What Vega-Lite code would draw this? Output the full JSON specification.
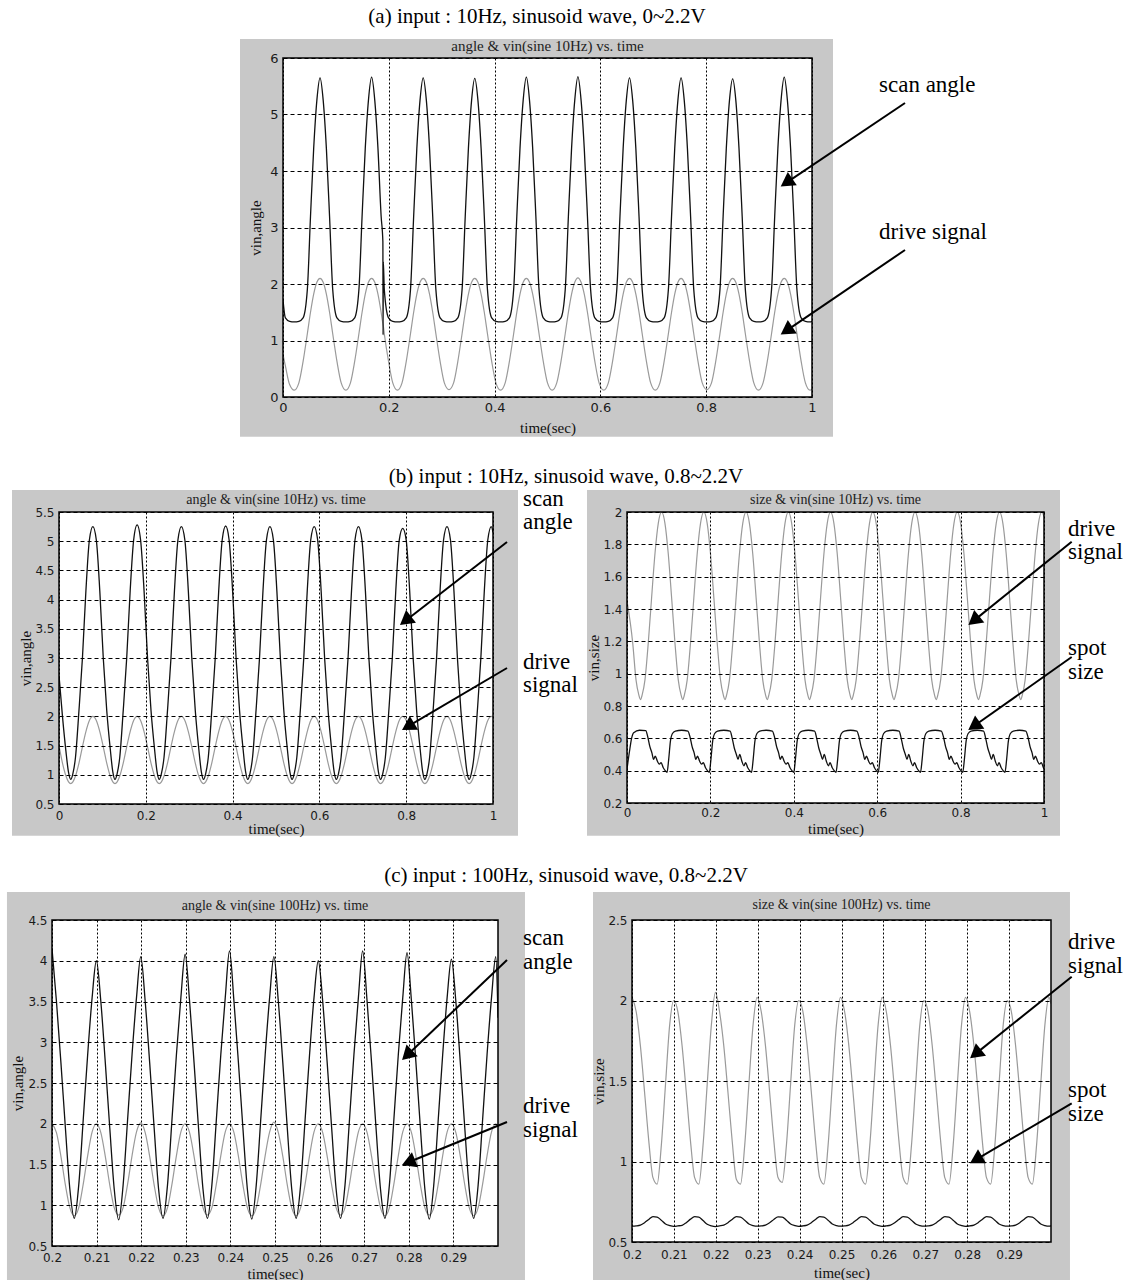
{
"$schema": "https://vega.github.io/schema/vega-lite/v6.json",
"background": "white",
"padding": 0,
"columns": 1,
"align": "each",
"bounds": "full",
"spacing": 29,
"config": {
  "view": {"stroke": null},
  "axis": {"grid": true, "tickCount": 40, "gridColor": "#000", "gridOpacity": 1, "gridWidth": 1, "domain": false, "ticks": false, "labelFlush": false, "labelOverlap": false, "labelSeparation": -100, "labelFont": "DejaVu Sans", "labelFontSize": 12, "labelColor": "#1a1a1a", "labelPadding": 5, "titleFont": "Liberation Serif", "titleFontSize": 15, "titleFontWeight": "normal", "titleColor": "#111"},
  "axisX": {"gridDash": [2, 2]},
  "axisY": {"gridDash": [4, 3]},
  "text": {"font": "Liberation Serif", "color": "#000"},
  "rect": {"color": "#c8c8c8"}
},
"datasets": {
"a": [
{"t":0,"a":1.72,"d":0.75},{"t":0.0045,"a":1.4,"d":0.55},{"t":0.0125,"a":1.34,"d":0.22},{"t":0.0213,"a":1.33,"d":0.12},
{"t":0.03,"a":1.34,"d":0.25},{"t":0.038,"a":1.4,"d":0.63},{"t":0.046,"a":1.9,"d":1.12},{"t":0.052,"a":3.2,"d":1.5},{"t":0.058,"a":4.4,"d":1.82},{"t":0.064,"a":5.25,"d":2.03},{"t":0.07,"a":5.65,"d":2.1},{"t":0.076,"a":5.25,"d":2.03},{"t":0.082,"a":4.4,"d":1.82},{"t":0.088,"a":3.2,"d":1.5},{"t":0.094,"a":1.9,"d":1.12},{"t":0.102,"a":1.4,"d":0.63},{"t":0.11,"a":1.34,"d":0.25},{"t":0.1188,"a":1.33,"d":0.12},
{"t":0.1275,"a":1.34,"d":0.25},{"t":0.1355,"a":1.4,"d":0.63},{"t":0.1435,"a":1.9,"d":1.12},{"t":0.1495,"a":3.2,"d":1.5},{"t":0.1555,"a":4.4,"d":1.82},{"t":0.1615,"a":5.25,"d":2.03},{"t":0.1675,"a":5.66,"d":2.1},{"t":0.1735,"a":5.25,"d":2.03},{"t":0.1795,"a":4.4,"d":1.82},{"t":0.1855,"a":3.2,"d":1.5},{"t":0.1888,"a":2.75,"d":1.3},{"t":0.1892,"a":1.1,"d":1.28},{"t":0.1896,"a":2.4,"d":1.26},{"t":0.1915,"a":1.9,"d":1.12},{"t":0.1995,"a":1.4,"d":0.63},{"t":0.2075,"a":1.34,"d":0.25},{"t":0.2163,"a":1.33,"d":0.12},
{"t":0.225,"a":1.34,"d":0.25},{"t":0.233,"a":1.4,"d":0.63},{"t":0.241,"a":1.9,"d":1.12},{"t":0.247,"a":3.2,"d":1.5},{"t":0.253,"a":4.4,"d":1.82},{"t":0.259,"a":5.25,"d":2.03},{"t":0.265,"a":5.65,"d":2.1},{"t":0.271,"a":5.25,"d":2.03},{"t":0.277,"a":4.4,"d":1.82},{"t":0.283,"a":3.2,"d":1.5},{"t":0.289,"a":1.9,"d":1.12},{"t":0.297,"a":1.4,"d":0.63},{"t":0.305,"a":1.34,"d":0.25},{"t":0.3138,"a":1.33,"d":0.13},
{"t":0.3225,"a":1.34,"d":0.25},{"t":0.3305,"a":1.4,"d":0.63},{"t":0.3385,"a":1.9,"d":1.12},{"t":0.3445,"a":3.2,"d":1.5},{"t":0.3505,"a":4.4,"d":1.82},{"t":0.3565,"a":5.25,"d":2.03},{"t":0.3625,"a":5.64,"d":2.1},{"t":0.3685,"a":5.25,"d":2.03},{"t":0.3745,"a":4.4,"d":1.82},{"t":0.3805,"a":3.2,"d":1.5},{"t":0.3865,"a":1.9,"d":1.12},{"t":0.3945,"a":1.4,"d":0.63},{"t":0.4025,"a":1.34,"d":0.25},{"t":0.4113,"a":1.33,"d":0.12},
{"t":0.42,"a":1.34,"d":0.25},{"t":0.428,"a":1.4,"d":0.63},{"t":0.436,"a":1.9,"d":1.12},{"t":0.442,"a":3.2,"d":1.5},{"t":0.448,"a":4.4,"d":1.82},{"t":0.454,"a":5.25,"d":2.03},{"t":0.46,"a":5.66,"d":2.1},{"t":0.466,"a":5.25,"d":2.03},{"t":0.472,"a":4.4,"d":1.82},{"t":0.478,"a":3.2,"d":1.5},{"t":0.484,"a":1.9,"d":1.12},{"t":0.492,"a":1.4,"d":0.63},{"t":0.5,"a":1.34,"d":0.25},{"t":0.5088,"a":1.33,"d":0.12},
{"t":0.5175,"a":1.34,"d":0.25},{"t":0.5255,"a":1.4,"d":0.63},{"t":0.5335,"a":1.9,"d":1.12},{"t":0.5395,"a":3.2,"d":1.5},{"t":0.5455,"a":4.4,"d":1.82},{"t":0.5515,"a":5.25,"d":2.03},{"t":0.5575,"a":5.67,"d":2.11},{"t":0.5635,"a":5.25,"d":2.03},{"t":0.5695,"a":4.4,"d":1.82},{"t":0.5755,"a":3.2,"d":1.5},{"t":0.5815,"a":1.9,"d":1.12},{"t":0.5895,"a":1.4,"d":0.63},{"t":0.5975,"a":1.34,"d":0.25},{"t":0.6063,"a":1.33,"d":0.12},
{"t":0.615,"a":1.34,"d":0.25},{"t":0.623,"a":1.4,"d":0.63},{"t":0.631,"a":1.9,"d":1.12},{"t":0.637,"a":3.2,"d":1.5},{"t":0.643,"a":4.4,"d":1.82},{"t":0.649,"a":5.25,"d":2.03},{"t":0.655,"a":5.65,"d":2.1},{"t":0.661,"a":5.25,"d":2.03},{"t":0.667,"a":4.4,"d":1.82},{"t":0.673,"a":3.2,"d":1.5},{"t":0.679,"a":1.9,"d":1.12},{"t":0.687,"a":1.4,"d":0.63},{"t":0.695,"a":1.34,"d":0.25},{"t":0.7038,"a":1.33,"d":0.12},
{"t":0.7125,"a":1.34,"d":0.25},{"t":0.7205,"a":1.4,"d":0.63},{"t":0.7285,"a":1.9,"d":1.12},{"t":0.7345,"a":3.2,"d":1.5},{"t":0.7405,"a":4.4,"d":1.82},{"t":0.7465,"a":5.25,"d":2.03},{"t":0.7525,"a":5.65,"d":2.1},{"t":0.7585,"a":5.25,"d":2.03},{"t":0.7645,"a":4.4,"d":1.82},{"t":0.7705,"a":3.2,"d":1.5},{"t":0.7765,"a":1.9,"d":1.12},{"t":0.7845,"a":1.4,"d":0.63},{"t":0.7925,"a":1.34,"d":0.25},{"t":0.8013,"a":1.33,"d":0.13},
{"t":0.81,"a":1.34,"d":0.25},{"t":0.818,"a":1.4,"d":0.63},{"t":0.826,"a":1.9,"d":1.12},{"t":0.832,"a":3.2,"d":1.5},{"t":0.838,"a":4.4,"d":1.82},{"t":0.844,"a":5.25,"d":2.03},{"t":0.85,"a":5.63,"d":2.1},{"t":0.856,"a":5.25,"d":2.03},{"t":0.862,"a":4.4,"d":1.82},{"t":0.868,"a":3.2,"d":1.5},{"t":0.874,"a":1.9,"d":1.12},{"t":0.882,"a":1.4,"d":0.63},{"t":0.89,"a":1.34,"d":0.25},{"t":0.8988,"a":1.33,"d":0.12},
{"t":0.9075,"a":1.34,"d":0.25},{"t":0.9155,"a":1.4,"d":0.63},{"t":0.9235,"a":1.9,"d":1.12},{"t":0.9295,"a":3.2,"d":1.5},{"t":0.9355,"a":4.4,"d":1.82},{"t":0.9415,"a":5.25,"d":2.03},{"t":0.9475,"a":5.66,"d":2.1},{"t":0.9535,"a":5.25,"d":2.03},{"t":0.9595,"a":4.4,"d":1.82},{"t":0.9655,"a":3.2,"d":1.5},{"t":0.9715,"a":1.9,"d":1.12},{"t":0.9795,"a":1.4,"d":0.63},{"t":0.9875,"a":1.34,"d":0.25},{"t":0.9963,"a":1.33,"d":0.12},
{"t":1,"a":1.34,"d":0.14}
],
"bl": [
{"t":0,"a":2.7,"d":1.5},{"t":0.008,"a":2.0,"d":1.2},{"t":0.016,"a":1.4,"d":0.98},{"t":0.022,"a":1.04,"d":0.88},{"t":0.027,"a":0.92,"d":0.85},
{"t":0.032,"a":1.02,"d":0.88},{"t":0.038,"a":1.3,"d":0.98},{"t":0.046,"a":2.1,"d":1.2},{"t":0.054,"a":3.0,"d":1.48},{"t":0.062,"a":4.15,"d":1.74},{"t":0.07,"a":5.02,"d":1.93},{"t":0.078,"a":5.25,"d":2.0},{"t":0.086,"a":5.02,"d":1.93},{"t":0.094,"a":4.15,"d":1.74},{"t":0.102,"a":3.0,"d":1.48},{"t":0.11,"a":2.1,"d":1.2},{"t":0.118,"a":1.45,"d":0.98},{"t":0.124,"a":1.05,"d":0.88},{"t":0.129,"a":0.92,"d":0.85},
{"t":0.134,"a":1.02,"d":0.88},{"t":0.14,"a":1.3,"d":0.98},{"t":0.148,"a":2.1,"d":1.2},{"t":0.156,"a":3.0,"d":1.48},{"t":0.164,"a":4.15,"d":1.74},{"t":0.172,"a":5.02,"d":1.93},{"t":0.18,"a":5.28,"d":2.0},{"t":0.188,"a":5.02,"d":1.93},{"t":0.196,"a":4.15,"d":1.74},{"t":0.204,"a":3.0,"d":1.48},{"t":0.212,"a":2.1,"d":1.2},{"t":0.22,"a":1.45,"d":0.98},{"t":0.226,"a":1.05,"d":0.88},{"t":0.231,"a":0.92,"d":0.85},
{"t":0.236,"a":1.02,"d":0.88},{"t":0.242,"a":1.3,"d":0.98},{"t":0.25,"a":2.1,"d":1.2},{"t":0.258,"a":3.0,"d":1.48},{"t":0.266,"a":4.15,"d":1.74},{"t":0.274,"a":5.02,"d":1.93},{"t":0.282,"a":5.25,"d":2.0},{"t":0.29,"a":5.02,"d":1.93},{"t":0.298,"a":4.15,"d":1.74},{"t":0.306,"a":3.0,"d":1.48},{"t":0.314,"a":2.1,"d":1.2},{"t":0.322,"a":1.45,"d":0.98},{"t":0.328,"a":1.05,"d":0.88},{"t":0.333,"a":0.92,"d":0.85},
{"t":0.338,"a":1.02,"d":0.88},{"t":0.344,"a":1.3,"d":0.98},{"t":0.352,"a":2.1,"d":1.2},{"t":0.36,"a":3.0,"d":1.48},{"t":0.368,"a":4.15,"d":1.74},{"t":0.376,"a":5.02,"d":1.93},{"t":0.384,"a":5.26,"d":2.0},{"t":0.392,"a":5.02,"d":1.93},{"t":0.4,"a":4.15,"d":1.74},{"t":0.408,"a":3.0,"d":1.48},{"t":0.416,"a":2.1,"d":1.2},{"t":0.424,"a":1.45,"d":0.98},{"t":0.43,"a":1.05,"d":0.88},{"t":0.435,"a":0.92,"d":0.85},
{"t":0.44,"a":1.02,"d":0.88},{"t":0.446,"a":1.3,"d":0.98},{"t":0.454,"a":2.1,"d":1.2},{"t":0.462,"a":3.0,"d":1.48},{"t":0.47,"a":4.15,"d":1.74},{"t":0.478,"a":5.02,"d":1.93},{"t":0.486,"a":5.25,"d":2.0},{"t":0.494,"a":5.02,"d":1.93},{"t":0.502,"a":4.15,"d":1.74},{"t":0.51,"a":3.0,"d":1.48},{"t":0.518,"a":2.1,"d":1.2},{"t":0.526,"a":1.45,"d":0.98},{"t":0.532,"a":1.05,"d":0.88},{"t":0.537,"a":0.92,"d":0.85},
{"t":0.542,"a":1.02,"d":0.88},{"t":0.548,"a":1.3,"d":0.98},{"t":0.556,"a":2.1,"d":1.2},{"t":0.564,"a":3.0,"d":1.48},{"t":0.572,"a":4.15,"d":1.74},{"t":0.58,"a":5.02,"d":1.93},{"t":0.588,"a":5.25,"d":2.0},{"t":0.596,"a":5.02,"d":1.93},{"t":0.604,"a":4.15,"d":1.74},{"t":0.612,"a":3.0,"d":1.48},{"t":0.62,"a":2.1,"d":1.2},{"t":0.628,"a":1.45,"d":0.98},{"t":0.634,"a":1.05,"d":0.88},{"t":0.639,"a":0.92,"d":0.85},
{"t":0.644,"a":1.02,"d":0.88},{"t":0.65,"a":1.3,"d":0.98},{"t":0.658,"a":2.1,"d":1.2},{"t":0.666,"a":3.0,"d":1.48},{"t":0.674,"a":4.15,"d":1.74},{"t":0.682,"a":5.02,"d":1.93},{"t":0.69,"a":5.25,"d":2.0},{"t":0.698,"a":5.02,"d":1.93},{"t":0.706,"a":4.15,"d":1.74},{"t":0.714,"a":3.0,"d":1.48},{"t":0.722,"a":2.1,"d":1.2},{"t":0.73,"a":1.45,"d":0.98},{"t":0.736,"a":1.05,"d":0.88},{"t":0.741,"a":0.92,"d":0.85},
{"t":0.746,"a":1.02,"d":0.88},{"t":0.752,"a":1.3,"d":0.98},{"t":0.76,"a":2.1,"d":1.2},{"t":0.768,"a":3.0,"d":1.48},{"t":0.776,"a":4.15,"d":1.74},{"t":0.784,"a":5.02,"d":1.93},{"t":0.792,"a":5.22,"d":2.0},{"t":0.8,"a":5.02,"d":1.93},{"t":0.808,"a":4.15,"d":1.74},{"t":0.816,"a":3.0,"d":1.48},{"t":0.824,"a":2.1,"d":1.2},{"t":0.832,"a":1.45,"d":0.98},{"t":0.838,"a":1.05,"d":0.88},{"t":0.843,"a":0.92,"d":0.85},
{"t":0.848,"a":1.02,"d":0.88},{"t":0.854,"a":1.3,"d":0.98},{"t":0.862,"a":2.1,"d":1.2},{"t":0.87,"a":3.0,"d":1.48},{"t":0.878,"a":4.15,"d":1.74},{"t":0.886,"a":5.02,"d":1.93},{"t":0.894,"a":5.25,"d":2.0},{"t":0.902,"a":5.02,"d":1.93},{"t":0.91,"a":4.15,"d":1.74},{"t":0.918,"a":3.0,"d":1.48},{"t":0.926,"a":2.1,"d":1.2},{"t":0.934,"a":1.45,"d":0.98},{"t":0.94,"a":1.05,"d":0.88},{"t":0.945,"a":0.92,"d":0.85},
{"t":0.95,"a":1.02,"d":0.88},{"t":0.956,"a":1.3,"d":0.98},{"t":0.964,"a":2.1,"d":1.2},{"t":0.972,"a":3.0,"d":1.48},{"t":0.98,"a":4.15,"d":1.74},{"t":0.988,"a":5.02,"d":1.93},{"t":0.996,"a":5.25,"d":2.0},
{"t":1,"a":5.15,"d":1.99}
],
"brd": [
{"t":0,"v":1.45},{"t":0.0137,"v":1.19},{"t":0.0217,"v":0.96},{"t":0.0282,"v":0.87},{"t":0.0324,"v":0.84},
{"t":0.0365,"v":0.87},{"t":0.043,"v":0.96},{"t":0.051,"v":1.19},{"t":0.059,"v":1.47},{"t":0.067,"v":1.74},{"t":0.075,"v":1.93},{"t":0.083,"v":2.0},{"t":0.091,"v":1.93},{"t":0.099,"v":1.74},{"t":0.107,"v":1.47},{"t":0.115,"v":1.19},{"t":0.123,"v":0.96},{"t":0.1295,"v":0.87},{"t":0.1337,"v":0.84},
{"t":0.1378,"v":0.87},{"t":0.1443,"v":0.96},{"t":0.1523,"v":1.19},{"t":0.1603,"v":1.47},{"t":0.1683,"v":1.74},{"t":0.1763,"v":1.93},{"t":0.1843,"v":2.0},{"t":0.1923,"v":1.93},{"t":0.2003,"v":1.74},{"t":0.2083,"v":1.47},{"t":0.2163,"v":1.19},{"t":0.2243,"v":0.96},{"t":0.2308,"v":0.87},{"t":0.235,"v":0.84},
{"t":0.2391,"v":0.87},{"t":0.2456,"v":0.96},{"t":0.2536,"v":1.19},{"t":0.2616,"v":1.47},{"t":0.2696,"v":1.74},{"t":0.2776,"v":1.93},{"t":0.2856,"v":2.0},{"t":0.2936,"v":1.93},{"t":0.3016,"v":1.74},{"t":0.3096,"v":1.47},{"t":0.3176,"v":1.19},{"t":0.3256,"v":0.96},{"t":0.3321,"v":0.87},{"t":0.3363,"v":0.84},
{"t":0.3404,"v":0.87},{"t":0.3469,"v":0.96},{"t":0.3549,"v":1.19},{"t":0.3629,"v":1.47},{"t":0.3709,"v":1.74},{"t":0.3789,"v":1.93},{"t":0.3869,"v":2.0},{"t":0.3949,"v":1.93},{"t":0.4029,"v":1.74},{"t":0.4109,"v":1.47},{"t":0.4189,"v":1.19},{"t":0.4269,"v":0.96},{"t":0.4334,"v":0.87},{"t":0.4376,"v":0.84},
{"t":0.4417,"v":0.87},{"t":0.4482,"v":0.96},{"t":0.4562,"v":1.19},{"t":0.4642,"v":1.47},{"t":0.4722,"v":1.74},{"t":0.4802,"v":1.93},{"t":0.4882,"v":2.0},{"t":0.4962,"v":1.93},{"t":0.5042,"v":1.74},{"t":0.5122,"v":1.47},{"t":0.5202,"v":1.19},{"t":0.5282,"v":0.96},{"t":0.5347,"v":0.87},{"t":0.5389,"v":0.84},
{"t":0.543,"v":0.87},{"t":0.5495,"v":0.96},{"t":0.5575,"v":1.19},{"t":0.5655,"v":1.47},{"t":0.5735,"v":1.74},{"t":0.5815,"v":1.93},{"t":0.5895,"v":2.0},{"t":0.5975,"v":1.93},{"t":0.6055,"v":1.74},{"t":0.6135,"v":1.47},{"t":0.6215,"v":1.19},{"t":0.6295,"v":0.96},{"t":0.636,"v":0.87},{"t":0.6402,"v":0.84},
{"t":0.6443,"v":0.87},{"t":0.6508,"v":0.96},{"t":0.6588,"v":1.19},{"t":0.6668,"v":1.47},{"t":0.6748,"v":1.74},{"t":0.6828,"v":1.93},{"t":0.6908,"v":2.0},{"t":0.6988,"v":1.93},{"t":0.7068,"v":1.74},{"t":0.7148,"v":1.47},{"t":0.7228,"v":1.19},{"t":0.7308,"v":0.96},{"t":0.7373,"v":0.87},{"t":0.7415,"v":0.84},
{"t":0.7456,"v":0.87},{"t":0.7521,"v":0.96},{"t":0.7601,"v":1.19},{"t":0.7681,"v":1.47},{"t":0.7761,"v":1.74},{"t":0.7841,"v":1.93},{"t":0.7921,"v":2.0},{"t":0.8001,"v":1.93},{"t":0.8081,"v":1.74},{"t":0.8161,"v":1.47},{"t":0.8241,"v":1.19},{"t":0.8321,"v":0.96},{"t":0.8386,"v":0.87},{"t":0.8428,"v":0.84},
{"t":0.8469,"v":0.87},{"t":0.8534,"v":0.96},{"t":0.8614,"v":1.19},{"t":0.8694,"v":1.47},{"t":0.8774,"v":1.74},{"t":0.8854,"v":1.93},{"t":0.8934,"v":2.0},{"t":0.9014,"v":1.93},{"t":0.9094,"v":1.74},{"t":0.9174,"v":1.47},{"t":0.9254,"v":1.19},{"t":0.9334,"v":0.96},{"t":0.9399,"v":0.87},{"t":0.9441,"v":0.84},
{"t":0.9482,"v":0.87},{"t":0.9547,"v":0.96},{"t":0.9627,"v":1.19},{"t":0.9707,"v":1.47},{"t":0.9787,"v":1.74},{"t":0.9867,"v":1.93},{"t":0.9947,"v":2.0},{"t":1,"v":1.97}
],
"brs": [
{"t":0,"v":0.41},{"t":0.006,"v":0.52},{"t":0.011,"v":0.6},{"t":0.016,"v":0.635},{"t":0.03,"v":0.65},{"t":0.045,"v":0.648},{"t":0.0497,"v":0.61},{"t":0.0547,"v":0.55},{"t":0.0597,"v":0.51},{"t":0.0637,"v":0.47},{"t":0.0677,"v":0.49},{"t":0.0727,"v":0.46},{"t":0.0777,"v":0.44},{"t":0.0817,"v":0.45},{"t":0.0867,"v":0.42},{"t":0.0917,"v":0.4},
{"t":0.096,"v":0.39},{"t":0.1,"v":0.47},{"t":0.104,"v":0.58},{"t":0.109,"v":0.63},{"t":0.116,"v":0.645},{"t":0.131,"v":0.65},{"t":0.146,"v":0.645},{"t":0.151,"v":0.61},{"t":0.156,"v":0.55},{"t":0.161,"v":0.51},{"t":0.165,"v":0.47},{"t":0.169,"v":0.49},{"t":0.174,"v":0.46},{"t":0.179,"v":0.44},{"t":0.183,"v":0.45},{"t":0.188,"v":0.42},{"t":0.193,"v":0.4},
{"t":0.1973,"v":0.39},{"t":0.2013,"v":0.47},{"t":0.2053,"v":0.58},{"t":0.2103,"v":0.63},{"t":0.2173,"v":0.645},{"t":0.2323,"v":0.65},{"t":0.2473,"v":0.645},{"t":0.2523,"v":0.6},{"t":0.2573,"v":0.54},{"t":0.2623,"v":0.5},{"t":0.2663,"v":0.47},{"t":0.2703,"v":0.5},{"t":0.2753,"v":0.46},{"t":0.2803,"v":0.43},{"t":0.2843,"v":0.45},{"t":0.2893,"v":0.42},{"t":0.2943,"v":0.4},
{"t":0.2986,"v":0.39},{"t":0.3026,"v":0.47},{"t":0.3066,"v":0.58},{"t":0.3116,"v":0.63},{"t":0.3186,"v":0.645},{"t":0.3336,"v":0.65},{"t":0.3486,"v":0.645},{"t":0.3536,"v":0.61},{"t":0.3586,"v":0.55},{"t":0.3636,"v":0.51},{"t":0.3676,"v":0.47},{"t":0.3716,"v":0.49},{"t":0.3766,"v":0.46},{"t":0.3816,"v":0.44},{"t":0.3856,"v":0.45},{"t":0.3906,"v":0.42},{"t":0.3956,"v":0.4},
{"t":0.3999,"v":0.39},{"t":0.4039,"v":0.47},{"t":0.4079,"v":0.58},{"t":0.4129,"v":0.63},{"t":0.4199,"v":0.645},{"t":0.4349,"v":0.65},{"t":0.4499,"v":0.645},{"t":0.4549,"v":0.6},{"t":0.4599,"v":0.54},{"t":0.4649,"v":0.5},{"t":0.4689,"v":0.47},{"t":0.4729,"v":0.5},{"t":0.4779,"v":0.46},{"t":0.4829,"v":0.43},{"t":0.4869,"v":0.45},{"t":0.4919,"v":0.42},{"t":0.4969,"v":0.4},
{"t":0.5012,"v":0.39},{"t":0.5052,"v":0.47},{"t":0.5092,"v":0.58},{"t":0.5142,"v":0.63},{"t":0.5212,"v":0.645},{"t":0.5362,"v":0.65},{"t":0.5512,"v":0.645},{"t":0.5562,"v":0.61},{"t":0.5612,"v":0.55},{"t":0.5662,"v":0.51},{"t":0.5702,"v":0.47},{"t":0.5742,"v":0.49},{"t":0.5792,"v":0.46},{"t":0.5842,"v":0.44},{"t":0.5882,"v":0.45},{"t":0.5932,"v":0.42},{"t":0.5982,"v":0.4},
{"t":0.6025,"v":0.39},{"t":0.6065,"v":0.47},{"t":0.6105,"v":0.58},{"t":0.6155,"v":0.63},{"t":0.6225,"v":0.645},{"t":0.6375,"v":0.65},{"t":0.6525,"v":0.645},{"t":0.6575,"v":0.6},{"t":0.6625,"v":0.54},{"t":0.6675,"v":0.5},{"t":0.6715,"v":0.47},{"t":0.6755,"v":0.5},{"t":0.6805,"v":0.46},{"t":0.6855,"v":0.43},{"t":0.6895,"v":0.45},{"t":0.6945,"v":0.42},{"t":0.6995,"v":0.4},
{"t":0.7038,"v":0.39},{"t":0.7078,"v":0.47},{"t":0.7118,"v":0.58},{"t":0.7168,"v":0.63},{"t":0.7238,"v":0.645},{"t":0.7388,"v":0.65},{"t":0.7538,"v":0.645},{"t":0.7588,"v":0.61},{"t":0.7638,"v":0.55},{"t":0.7688,"v":0.51},{"t":0.7728,"v":0.47},{"t":0.7768,"v":0.49},{"t":0.7818,"v":0.46},{"t":0.7868,"v":0.44},{"t":0.7908,"v":0.45},{"t":0.7958,"v":0.42},{"t":0.8008,"v":0.4},
{"t":0.8051,"v":0.39},{"t":0.8091,"v":0.47},{"t":0.8131,"v":0.58},{"t":0.8181,"v":0.63},{"t":0.8251,"v":0.645},{"t":0.8401,"v":0.65},{"t":0.8551,"v":0.645},{"t":0.8601,"v":0.6},{"t":0.8651,"v":0.54},{"t":0.8701,"v":0.5},{"t":0.8741,"v":0.47},{"t":0.8781,"v":0.5},{"t":0.8831,"v":0.46},{"t":0.8881,"v":0.43},{"t":0.8921,"v":0.45},{"t":0.8971,"v":0.42},{"t":0.9021,"v":0.4},
{"t":0.9064,"v":0.39},{"t":0.9104,"v":0.47},{"t":0.9144,"v":0.58},{"t":0.9194,"v":0.63},{"t":0.9264,"v":0.645},{"t":0.9414,"v":0.65},{"t":0.9564,"v":0.645},{"t":0.9614,"v":0.61},{"t":0.9664,"v":0.55},{"t":0.9714,"v":0.51},{"t":0.9754,"v":0.47},{"t":0.9794,"v":0.49},{"t":0.9844,"v":0.46},{"t":0.9894,"v":0.44},{"t":0.9934,"v":0.45},{"t":0.9984,"v":0.42},{"t":1,"v":0.41}
],
"c": [
{"t":0.2,"a":4.15,"d":2.0,"e":2.02,"s":0.598},{"t":0.201,"a":3.5,"d":1.89,"e":1.93,"s":0.6},{"t":0.202,"a":2.75,"d":1.6,"e":1.72,"s":0.605},{"t":0.203,"a":1.95,"d":1.25,"e":1.43,"s":0.62},{"t":0.204,"a":1.2,"d":0.97,"e":1.13,"s":0.64},{"t":0.205,"a":0.84,"d":0.87,"e":0.9,"s":0.658},{"t":0.206,"a":1.25,"d":0.97,"e":0.86,"s":0.655},{"t":0.207,"a":2.05,"d":1.26,"e":1.1,"s":0.635},{"t":0.208,"a":2.85,"d":1.61,"e":1.48,"s":0.612},{"t":0.209,"a":3.55,"d":1.9,"e":1.85,"s":0.602},
{"t":0.20995,"a":4.0,"d":2.0,"e":2.0,"s":0.597},{"t":0.21095,"a":3.5,"d":1.89,"e":1.93,"s":0.6},{"t":0.21195,"a":2.75,"d":1.6,"e":1.72,"s":0.604},{"t":0.21295,"a":1.95,"d":1.25,"e":1.43,"s":0.62},{"t":0.21395,"a":1.2,"d":0.97,"e":1.13,"s":0.642},{"t":0.21495,"a":0.82,"d":0.88,"e":0.9,"s":0.657},{"t":0.21595,"a":1.25,"d":0.97,"e":0.86,"s":0.655},{"t":0.21695,"a":2.05,"d":1.26,"e":1.1,"s":0.633},{"t":0.21795,"a":2.85,"d":1.61,"e":1.48,"s":0.61},{"t":0.21895,"a":3.55,"d":1.9,"e":1.85,"s":0.6},
{"t":0.2199,"a":4.05,"d":2.01,"e":2.05,"s":0.596},{"t":0.2209,"a":3.5,"d":1.89,"e":1.93,"s":0.6},{"t":0.2219,"a":2.75,"d":1.6,"e":1.72,"s":0.605},{"t":0.2229,"a":1.95,"d":1.25,"e":1.43,"s":0.62},{"t":0.2239,"a":1.2,"d":0.97,"e":1.13,"s":0.64},{"t":0.2249,"a":0.84,"d":0.87,"e":0.89,"s":0.658},{"t":0.2259,"a":1.25,"d":0.97,"e":0.86,"s":0.655},{"t":0.2269,"a":2.05,"d":1.26,"e":1.1,"s":0.635},{"t":0.2279,"a":2.85,"d":1.61,"e":1.48,"s":0.612},{"t":0.2289,"a":3.55,"d":1.9,"e":1.85,"s":0.602},
{"t":0.22985,"a":4.08,"d":2.0,"e":2.02,"s":0.598},{"t":0.23085,"a":3.5,"d":1.89,"e":1.93,"s":0.6},{"t":0.23185,"a":2.75,"d":1.6,"e":1.72,"s":0.605},{"t":0.23285,"a":1.95,"d":1.25,"e":1.43,"s":0.62},{"t":0.23385,"a":1.2,"d":0.97,"e":1.13,"s":0.64},{"t":0.23485,"a":0.84,"d":0.88,"e":0.9,"s":0.656},{"t":0.23585,"a":1.25,"d":0.97,"e":0.87,"s":0.655},{"t":0.23685,"a":2.05,"d":1.26,"e":1.1,"s":0.635},{"t":0.23785,"a":2.85,"d":1.61,"e":1.48,"s":0.612},{"t":0.23885,"a":3.55,"d":1.9,"e":1.85,"s":0.602},
{"t":0.2398,"a":4.12,"d":2.0,"e":2.0,"s":0.597},{"t":0.2408,"a":3.5,"d":1.89,"e":1.93,"s":0.6},{"t":0.2418,"a":2.75,"d":1.6,"e":1.72,"s":0.605},{"t":0.2428,"a":1.95,"d":1.25,"e":1.43,"s":0.62},{"t":0.2438,"a":1.2,"d":0.97,"e":1.13,"s":0.64},{"t":0.2448,"a":0.83,"d":0.87,"e":0.9,"s":0.658},{"t":0.2458,"a":1.25,"d":0.97,"e":0.86,"s":0.655},{"t":0.2468,"a":2.05,"d":1.26,"e":1.1,"s":0.635},{"t":0.2478,"a":2.85,"d":1.61,"e":1.48,"s":0.612},{"t":0.2488,"a":3.55,"d":1.9,"e":1.85,"s":0.602},
{"t":0.24975,"a":4.05,"d":2.02,"e":2.02,"s":0.598},{"t":0.25075,"a":3.5,"d":1.89,"e":1.93,"s":0.6},{"t":0.25175,"a":2.75,"d":1.6,"e":1.72,"s":0.605},{"t":0.25275,"a":1.95,"d":1.25,"e":1.43,"s":0.62},{"t":0.25375,"a":1.2,"d":0.97,"e":1.13,"s":0.64},{"t":0.25475,"a":0.84,"d":0.87,"e":0.9,"s":0.658},{"t":0.25575,"a":1.25,"d":0.97,"e":0.86,"s":0.655},{"t":0.25675,"a":2.05,"d":1.26,"e":1.1,"s":0.635},{"t":0.25775,"a":2.85,"d":1.61,"e":1.48,"s":0.612},{"t":0.25875,"a":3.55,"d":1.9,"e":1.85,"s":0.602},
{"t":0.2597,"a":4.0,"d":2.0,"e":2.02,"s":0.597},{"t":0.2607,"a":3.5,"d":1.89,"e":1.93,"s":0.6},{"t":0.2617,"a":2.75,"d":1.6,"e":1.72,"s":0.605},{"t":0.2627,"a":1.95,"d":1.25,"e":1.43,"s":0.62},{"t":0.2637,"a":1.2,"d":0.97,"e":1.13,"s":0.64},{"t":0.2647,"a":0.84,"d":0.88,"e":0.9,"s":0.657},{"t":0.2657,"a":1.25,"d":0.97,"e":0.86,"s":0.655},{"t":0.2667,"a":2.05,"d":1.26,"e":1.1,"s":0.635},{"t":0.2677,"a":2.85,"d":1.61,"e":1.48,"s":0.612},{"t":0.2687,"a":3.55,"d":1.9,"e":1.85,"s":0.602},
{"t":0.26965,"a":4.12,"d":2.0,"e":2.0,"s":0.598},{"t":0.27065,"a":3.5,"d":1.89,"e":1.93,"s":0.6},{"t":0.27165,"a":2.75,"d":1.6,"e":1.72,"s":0.605},{"t":0.27265,"a":1.95,"d":1.25,"e":1.43,"s":0.62},{"t":0.27365,"a":1.2,"d":0.97,"e":1.13,"s":0.64},{"t":0.27465,"a":0.84,"d":0.87,"e":0.9,"s":0.658},{"t":0.27565,"a":1.25,"d":0.97,"e":0.86,"s":0.655},{"t":0.27665,"a":2.05,"d":1.26,"e":1.1,"s":0.635},{"t":0.27765,"a":2.85,"d":1.61,"e":1.48,"s":0.612},{"t":0.27865,"a":3.55,"d":1.9,"e":1.85,"s":0.602},
{"t":0.2796,"a":4.1,"d":2.0,"e":2.02,"s":0.597},{"t":0.2806,"a":3.5,"d":1.89,"e":1.93,"s":0.6},{"t":0.2816,"a":2.75,"d":1.6,"e":1.72,"s":0.605},{"t":0.2826,"a":1.95,"d":1.25,"e":1.43,"s":0.62},{"t":0.2836,"a":1.2,"d":0.97,"e":1.13,"s":0.64},{"t":0.2846,"a":0.83,"d":0.88,"e":0.9,"s":0.658},{"t":0.2856,"a":1.25,"d":0.97,"e":0.86,"s":0.655},{"t":0.2866,"a":2.05,"d":1.26,"e":1.1,"s":0.635},{"t":0.2876,"a":2.85,"d":1.61,"e":1.48,"s":0.612},{"t":0.2886,"a":3.55,"d":1.9,"e":1.85,"s":0.602},
{"t":0.28955,"a":4.02,"d":2.0,"e":2.0,"s":0.598},{"t":0.29055,"a":3.5,"d":1.89,"e":1.93,"s":0.6},{"t":0.29155,"a":2.75,"d":1.6,"e":1.72,"s":0.605},{"t":0.29255,"a":1.95,"d":1.25,"e":1.43,"s":0.62},{"t":0.29355,"a":1.2,"d":0.97,"e":1.13,"s":0.64},{"t":0.29455,"a":0.84,"d":0.87,"e":0.9,"s":0.658},{"t":0.29555,"a":1.25,"d":0.97,"e":0.86,"s":0.655},{"t":0.29655,"a":2.05,"d":1.26,"e":1.1,"s":0.635},{"t":0.29755,"a":2.85,"d":1.61,"e":1.48,"s":0.612},{"t":0.29855,"a":3.55,"d":1.9,"e":1.85,"s":0.602},
{"t":0.2995,"a":4.05,"d":2.0,"e":2.02,"s":0.598},{"t":0.3,"a":3.3,"d":1.97,"e":1.98,"s":0.6}
]
},
"concat": [
{
 "hconcat": [
  {"width": 231, "height": 10, "data": {"values": [{}]}, "mark": {"type": "point", "opacity": 0}, "encoding": {}},
  {
   "width": 529, "height": 339,
   "data": {"values": [{}]},
   "layer": [
    {"mark": "rect", "encoding": {"x": {"datum": -0.0813}, "x2": {"datum": 1.0397}, "y": {"datum": 6}, "y2": {"datum": 6.336}}},
    {"mark": "rect", "encoding": {"x": {"datum": -0.0813}, "x2": {"datum": 1.0397}, "y": {"datum": -0.705}, "y2": {"datum": 0}}},
    {"mark": "rect", "encoding": {"x": {"datum": -0.0813}, "x2": {"datum": 0}, "y": {"datum": 0}, "y2": {"datum": 6}}},
    {"mark": "rect", "encoding": {"x": {"datum": 1}, "x2": {"datum": 1.0397}, "y": {"datum": 0}, "y2": {"datum": 6}}},
    {"data": {"name": "a"}, "mark": {"type": "line", "color": "#9a9a9a", "strokeWidth": 1.2, "interpolate": "monotone", "clip": true},
     "encoding": {
      "x": {"field": "t", "type": "quantitative", "scale": {"domain": [0, 1], "nice": false, "zero": false}, "axis": {"zindex": 1, "tickCount": 40, "labelOverlap": false, "labelSeparation": -100, "values": [0, 0.2, 0.4, 0.6, 0.8, 1], "format": "~g", "title": "time(sec)", "titleX": 264.5, "titleY": 30, "titleBaseline": "middle", "labelFontSize": 13, "labelPadding": 4}},
      "y": {"field": "d", "type": "quantitative", "scale": {"domain": [0, 6], "nice": false, "zero": false}, "axis": {"zindex": 1, "tickCount": 40, "labelOverlap": false, "labelSeparation": -100, "values": [0, 1, 2, 3, 4, 5, 6], "format": "~g", "title": "vin,angle", "titleX": -28, "titleY": 169.5, "titleBaseline": "middle", "titleAlign": "center", "labelFontSize": 13}}}},
    {"data": {"name": "a"}, "mark": {"type": "line", "color": "#111", "strokeWidth": 1.3, "interpolate": "monotone", "clip": true},
     "encoding": {"x": {"field": "t", "type": "quantitative"}, "y": {"field": "a", "type": "quantitative"}}},
    {"mark": {"type": "rect", "fillOpacity": 0, "stroke": "#000", "strokeWidth": 1.5}, "encoding": {"x": {"datum": 0}, "x2": {"datum": 1}, "y": {"datum": 0}, "y2": {"datum": 6}}},
    {"mark": {"type": "text", "text": "(a) input : 10Hz, sinusoid wave, 0~2.2V", "align": "center", "baseline": "middle", "fontSize": 21}, "encoding": {"x": {"datum": 0.4802}, "y": {"datum": 6.7257}}},
    {"mark": {"type": "text", "text": "angle & vin(sine 10Hz) vs. time", "align": "center", "baseline": "middle", "fontSize": 15, "color": "#222"}, "encoding": {"x": {"datum": 0.5}, "y": {"datum": 6.212}}},
    {"mark": {"type": "text", "text": "scan angle", "align": "left", "baseline": "middle", "fontSize": 23}, "encoding": {"x": {"datum": 1.1267}, "y": {"datum": 5.522}}},
    {"mark": {"type": "text", "text": "drive signal", "align": "left", "baseline": "middle", "fontSize": 23}, "encoding": {"x": {"datum": 1.1267}, "y": {"datum": 2.92}}},
    {"mark": {"type": "rule", "color": "#000", "strokeWidth": 2}, "encoding": {"x": {"datum": 1.1758}, "y": {"datum": 5.204}, "x2": {"datum": 0.9518}, "y2": {"datum": 3.795}}},
    {"mark": {"type": "point", "shape": "triangle-up", "size": 260, "filled": true, "color": "#000", "opacity": 1, "angle": 236}, "encoding": {"x": {"datum": 0.9518}, "y": {"datum": 3.795}}},
    {"mark": {"type": "rule", "color": "#000", "strokeWidth": 2}, "encoding": {"x": {"datum": 1.1758}, "y": {"datum": 2.602}, "x2": {"datum": 0.9518}, "y2": {"datum": 1.175}}},
    {"mark": {"type": "point", "shape": "triangle-up", "size": 260, "filled": true, "color": "#000", "opacity": 1, "angle": 236}, "encoding": {"x": {"datum": 0.9518}, "y": {"datum": 1.175}}},
    {"mark": {"type": "rect", "fillOpacity": 0}, "encoding": {"x": {"datum": -0.53497}, "x2": {"datum": -0.53}, "y": {"datum": 7.0265}, "y2": {"datum": 7.02}}}
   ]
  }
 ],
 "spacing": 0, "bounds": "flush"
},
{
 "hconcat": [
  {"width": 7, "height": 10, "data": {"values": [{}]}, "mark": {"type": "point", "opacity": 0}, "encoding": {}},
  {
   "width": 434, "height": 292,
   "data": {"values": [{}]},
   "layer": [
    {"mark": "rect", "encoding": {"x": {"datum": -0.1083}, "x2": {"datum": 1.0576}, "y": {"datum": 5.5}, "y2": {"datum": 5.877}}},
    {"mark": "rect", "encoding": {"x": {"datum": -0.1083}, "x2": {"datum": 1.0576}, "y": {"datum": -0.0445}, "y2": {"datum": 0.5}}},
    {"mark": "rect", "encoding": {"x": {"datum": -0.1083}, "x2": {"datum": 0}, "y": {"datum": 0.5}, "y2": {"datum": 5.5}}},
    {"mark": "rect", "encoding": {"x": {"datum": 1}, "x2": {"datum": 1.0576}, "y": {"datum": 0.5}, "y2": {"datum": 5.5}}},
    {"data": {"name": "bl"}, "mark": {"type": "line", "color": "#9a9a9a", "strokeWidth": 1.2, "interpolate": "monotone", "clip": true},
     "encoding": {
      "x": {"field": "t", "type": "quantitative", "scale": {"domain": [0, 1], "nice": false, "zero": false}, "axis": {"zindex": 1, "tickCount": 40, "labelOverlap": false, "labelSeparation": -100, "values": [0, 0.2, 0.4, 0.6, 0.8, 1], "format": "~g", "title": "time(sec)", "titleX": 217, "titleY": 24, "titleBaseline": "middle", "labelPadding": 6}},
      "y": {"field": "d", "type": "quantitative", "scale": {"domain": [0.5, 5.5], "nice": false, "zero": false}, "axis": {"zindex": 1, "tickCount": 40, "labelOverlap": false, "labelSeparation": -100, "values": [0.5, 1, 1.5, 2, 2.5, 3, 3.5, 4, 4.5, 5, 5.5], "format": "~g", "title": "vin,angle", "titleX": -34, "titleY": 146, "titleBaseline": "middle", "titleAlign": "center"}}}},
    {"data": {"name": "bl"}, "mark": {"type": "line", "color": "#111", "strokeWidth": 1.3, "interpolate": "monotone", "clip": true},
     "encoding": {"x": {"field": "t", "type": "quantitative"}, "y": {"field": "a", "type": "quantitative"}}},
    {"mark": {"type": "rect", "fillOpacity": 0, "stroke": "#000", "strokeWidth": 1.5}, "encoding": {"x": {"datum": 0}, "x2": {"datum": 1}, "y": {"datum": 0.5}, "y2": {"datum": 5.5}}},
    {"mark": {"type": "text", "text": "(b) input : 10Hz, sinusoid wave, 0.8~2.2V", "align": "center", "baseline": "middle", "fontSize": 21}, "encoding": {"x": {"datum": 1.1682}, "y": {"datum": 6.099}}},
    {"mark": {"type": "text", "text": "angle & vin(sine 10Hz) vs. time", "align": "center", "baseline": "middle", "fontSize": 14, "color": "#222"}, "encoding": {"x": {"datum": 0.5}, "y": {"datum": 5.705}}},
    {"mark": {"type": "text", "text": "scan", "align": "left", "baseline": "middle", "fontSize": 23}, "encoding": {"x": {"datum": 1.0691}, "y": {"datum": 5.7226}}},
    {"mark": {"type": "text", "text": "angle", "align": "left", "baseline": "middle", "fontSize": 23}, "encoding": {"x": {"datum": 1.0691}, "y": {"datum": 5.3288}}},
    {"mark": {"type": "text", "text": "drive", "align": "left", "baseline": "middle", "fontSize": 23}, "encoding": {"x": {"datum": 1.0691}, "y": {"datum": 2.932}}},
    {"mark": {"type": "text", "text": "signal", "align": "left", "baseline": "middle", "fontSize": 23}, "encoding": {"x": {"datum": 1.0691}, "y": {"datum": 2.538}}},
    {"mark": {"type": "rule", "color": "#000", "strokeWidth": 2}, "encoding": {"x": {"datum": 1.0323}, "y": {"datum": 4.986}, "x2": {"datum": 0.7984}, "y2": {"datum": 3.639}}},
    {"mark": {"type": "point", "shape": "triangle-up", "size": 260, "filled": true, "color": "#000", "opacity": 1, "angle": 232}, "encoding": {"x": {"datum": 0.7984}, "y": {"datum": 3.639}}},
    {"mark": {"type": "rule", "color": "#000", "strokeWidth": 2}, "encoding": {"x": {"datum": 1.0323}, "y": {"datum": 2.829}, "x2": {"datum": 0.8041}, "y2": {"datum": 1.829}}},
    {"mark": {"type": "point", "shape": "triangle-up", "size": 260, "filled": true, "color": "#000", "opacity": 1, "angle": 239}, "encoding": {"x": {"datum": 0.8041}, "y": {"datum": 1.829}}}
   ]
  },
  {"width": 134, "height": 10, "data": {"values": [{}]}, "mark": {"type": "point", "opacity": 0}, "encoding": {}},
  {
   "width": 417, "height": 291,
   "data": {"values": [{}]},
   "layer": [
    {"mark": "rect", "encoding": {"x": {"datum": -0.0959}, "x2": {"datum": 1.0384}, "y": {"datum": 2}, "y2": {"datum": 2.136}}},
    {"mark": "rect", "encoding": {"x": {"datum": -0.0959}, "x2": {"datum": 1.0384}, "y": {"datum": -0.0028}, "y2": {"datum": 0.2}}},
    {"mark": "rect", "encoding": {"x": {"datum": -0.0959}, "x2": {"datum": 0}, "y": {"datum": 0.2}, "y2": {"datum": 2}}},
    {"mark": "rect", "encoding": {"x": {"datum": 1}, "x2": {"datum": 1.0384}, "y": {"datum": 0.2}, "y2": {"datum": 2}}},
    {"data": {"name": "brd"}, "mark": {"type": "line", "color": "#9a9a9a", "strokeWidth": 1.2, "interpolate": "monotone", "clip": true},
     "encoding": {
      "x": {"field": "t", "type": "quantitative", "scale": {"domain": [0, 1], "nice": false, "zero": false}, "axis": {"zindex": 1, "tickCount": 40, "labelOverlap": false, "labelSeparation": -100, "values": [0, 0.2, 0.4, 0.6, 0.8, 1], "format": "~g", "title": "time(sec)", "titleX": 208.5, "titleY": 25, "titleBaseline": "middle", "labelPadding": 4}},
      "y": {"field": "v", "type": "quantitative", "scale": {"domain": [0.2, 2], "nice": false, "zero": false}, "axis": {"zindex": 1, "tickCount": 40, "labelOverlap": false, "labelSeparation": -100, "values": [0.2, 0.4, 0.6, 0.8, 1, 1.2, 1.4, 1.6, 1.8, 2], "format": "~g", "title": "vin,size", "titleX": -34, "titleY": 145.5, "titleBaseline": "middle", "titleAlign": "center"}}}},
    {"data": {"name": "brs"}, "mark": {"type": "line", "color": "#111", "strokeWidth": 1.3, "interpolate": "monotone", "clip": true},
     "encoding": {"x": {"field": "t", "type": "quantitative"}, "y": {"field": "v", "type": "quantitative"}}},
    {"mark": {"type": "rect", "fillOpacity": 0, "stroke": "#000", "strokeWidth": 1.5}, "encoding": {"x": {"datum": 0}, "x2": {"datum": 1}, "y": {"datum": 0.2}, "y2": {"datum": 2}}},
    {"mark": {"type": "text", "text": "size & vin(sine 10Hz) vs. time", "align": "center", "baseline": "middle", "fontSize": 14, "color": "#222"}, "encoding": {"x": {"datum": 0.5}, "y": {"datum": 2.074}}},
    {"mark": {"type": "text", "text": "drive", "align": "left", "baseline": "middle", "fontSize": 23}, "encoding": {"x": {"datum": 1.0576}, "y": {"datum": 1.895}}},
    {"mark": {"type": "text", "text": "signal", "align": "left", "baseline": "middle", "fontSize": 23}, "encoding": {"x": {"datum": 1.0576}, "y": {"datum": 1.753}}},
    {"mark": {"type": "text", "text": "spot", "align": "left", "baseline": "middle", "fontSize": 23}, "encoding": {"x": {"datum": 1.0576}, "y": {"datum": 1.159}}},
    {"mark": {"type": "text", "text": "size", "align": "left", "baseline": "middle", "fontSize": 23}, "encoding": {"x": {"datum": 1.0576}, "y": {"datum": 1.01}}},
    {"mark": {"type": "rule", "color": "#000", "strokeWidth": 2}, "encoding": {"x": {"datum": 1.0664}, "y": {"datum": 1.816}, "x2": {"datum": 0.8317}, "y2": {"datum": 1.328}}},
    {"mark": {"type": "point", "shape": "triangle-up", "size": 260, "filled": true, "color": "#000", "opacity": 1, "angle": 231}, "encoding": {"x": {"datum": 0.8317}, "y": {"datum": 1.328}}},
    {"mark": {"type": "rule", "color": "#000", "strokeWidth": 2}, "encoding": {"x": {"datum": 1.0664}, "y": {"datum": 1.103}, "x2": {"datum": 0.8321}, "y2": {"datum": 0.676}}},
    {"mark": {"type": "point", "shape": "triangle-up", "size": 260, "filled": true, "color": "#000", "opacity": 1, "angle": 235}, "encoding": {"x": {"datum": 0.8321}, "y": {"datum": 0.676}}}
   ]
  }
 ],
 "spacing": 0, "bounds": "flush"
},
{
 "hconcat": [
  {
   "width": 446, "height": 326,
   "data": {"values": [{}]},
   "layer": [
    {"mark": "rect", "encoding": {"x": {"datum": 0.1899}, "x2": {"datum": 0.30605}, "y": {"datum": 4.5}, "y2": {"datum": 4.8436}}},
    {"mark": "rect", "encoding": {"x": {"datum": 0.1899}, "x2": {"datum": 0.30605}, "y": {"datum": 0.0828}, "y2": {"datum": 0.5}}},
    {"mark": "rect", "encoding": {"x": {"datum": 0.1899}, "x2": {"datum": 0.2}, "y": {"datum": 0.5}, "y2": {"datum": 4.5}}},
    {"mark": "rect", "encoding": {"x": {"datum": 0.3}, "x2": {"datum": 0.30605}, "y": {"datum": 0.5}, "y2": {"datum": 4.5}}},
    {"data": {"name": "c"}, "mark": {"type": "line", "color": "#9a9a9a", "strokeWidth": 1.2, "interpolate": "monotone", "clip": true},
     "encoding": {
      "x": {"field": "t", "type": "quantitative", "scale": {"domain": [0.2, 0.3], "nice": false, "zero": false}, "axis": {"zindex": 1, "tickCount": 40, "labelOverlap": false, "labelSeparation": -100, "values": [0.2, 0.21, 0.22, 0.23, 0.24, 0.25, 0.26, 0.27, 0.28, 0.29], "format": "~g", "title": "time(sec)", "titleX": 223, "titleY": 27, "titleBaseline": "middle", "labelPadding": 6}},
      "y": {"field": "d", "type": "quantitative", "scale": {"domain": [0.5, 4.5], "nice": false, "zero": false}, "axis": {"zindex": 1, "tickCount": 40, "labelOverlap": false, "labelSeparation": -100, "values": [0.5, 1, 1.5, 2, 2.5, 3, 3.5, 4, 4.5], "format": "~g", "title": "vin,angle", "titleX": -35, "titleY": 163, "titleBaseline": "middle", "titleAlign": "center"}}}},
    {"data": {"name": "c"}, "mark": {"type": "line", "color": "#111", "strokeWidth": 1.3, "interpolate": "monotone", "clip": true},
     "encoding": {"x": {"field": "t", "type": "quantitative"}, "y": {"field": "a", "type": "quantitative"}}},
    {"mark": {"type": "rect", "fillOpacity": 0, "stroke": "#000", "strokeWidth": 1.5}, "encoding": {"x": {"datum": 0.2}, "x2": {"datum": 0.3}, "y": {"datum": 0.5}, "y2": {"datum": 4.5}}},
    {"mark": {"type": "text", "text": "(c) input : 100Hz, sinusoid wave, 0.8~2.2V", "align": "center", "baseline": "middle", "fontSize": 21}, "encoding": {"x": {"datum": 0.31525}, "y": {"datum": 5.0374}}},
    {"mark": {"type": "text", "text": "angle & vin(sine 100Hz) vs. time", "align": "center", "baseline": "middle", "fontSize": 14, "color": "#222"}, "encoding": {"x": {"datum": 0.25}, "y": {"datum": 4.6718}}},
    {"mark": {"type": "text", "text": "scan", "align": "left", "baseline": "middle", "fontSize": 23}, "encoding": {"x": {"datum": 0.30561}, "y": {"datum": 4.2791}}},
    {"mark": {"type": "text", "text": "angle", "align": "left", "baseline": "middle", "fontSize": 23}, "encoding": {"x": {"datum": 0.30561}, "y": {"datum": 3.9847}}},
    {"mark": {"type": "text", "text": "drive", "align": "left", "baseline": "middle", "fontSize": 23}, "encoding": {"x": {"datum": 0.30561}, "y": {"datum": 2.2178}}},
    {"mark": {"type": "text", "text": "signal", "align": "left", "baseline": "middle", "fontSize": 23}, "encoding": {"x": {"datum": 0.30561}, "y": {"datum": 1.9233}}},
    {"mark": {"type": "rule", "color": "#000", "strokeWidth": 2}, "encoding": {"x": {"datum": 0.30202}, "y": {"datum": 4.0092}, "x2": {"datum": 0.27962}, "y2": {"datum": 2.8411}}},
    {"mark": {"type": "point", "shape": "triangle-up", "size": 260, "filled": true, "color": "#000", "opacity": 1, "angle": 226}, "encoding": {"x": {"datum": 0.27962}, "y": {"datum": 2.8411}}},
    {"mark": {"type": "rule", "color": "#000", "strokeWidth": 2}, "encoding": {"x": {"datum": 0.30202}, "y": {"datum": 2.0215}, "x2": {"datum": 0.27993}, "y2": {"datum": 1.527}}},
    {"mark": {"type": "point", "shape": "triangle-up", "size": 260, "filled": true, "color": "#000", "opacity": 1, "angle": 248}, "encoding": {"x": {"datum": 0.27993}, "y": {"datum": 1.527}}}
   ]
  },
  {
   "width": 419, "height": 322,
   "data": {"values": [{}]},
   "layer": [
    {"mark": "rect", "encoding": {"x": {"datum": 0.19069}, "x2": {"datum": 0.30453}, "y": {"datum": 2.5}, "y2": {"datum": 2.6739}}},
    {"mark": "rect", "encoding": {"x": {"datum": 0.19069}, "x2": {"datum": 0.30453}, "y": {"datum": 0.264}, "y2": {"datum": 0.5}}},
    {"mark": "rect", "encoding": {"x": {"datum": 0.19069}, "x2": {"datum": 0.2}, "y": {"datum": 0.5}, "y2": {"datum": 2.5}}},
    {"mark": "rect", "encoding": {"x": {"datum": 0.3}, "x2": {"datum": 0.30453}, "y": {"datum": 0.5}, "y2": {"datum": 2.5}}},
    {"data": {"name": "c"}, "mark": {"type": "line", "color": "#9a9a9a", "strokeWidth": 1.2, "interpolate": "monotone", "clip": true},
     "encoding": {
      "x": {"field": "t", "type": "quantitative", "scale": {"domain": [0.2, 0.3], "nice": false, "zero": false}, "axis": {"zindex": 1, "tickCount": 40, "labelOverlap": false, "labelSeparation": -100, "values": [0.2, 0.21, 0.22, 0.23, 0.24, 0.25, 0.26, 0.27, 0.28, 0.29], "format": "~g", "title": "time(sec)", "titleX": 209.5, "titleY": 30, "titleBaseline": "middle", "labelPadding": 7}},
      "y": {"field": "e", "type": "quantitative", "scale": {"domain": [0.5, 2.5], "nice": false, "zero": false}, "axis": {"zindex": 1, "tickCount": 40, "labelOverlap": false, "labelSeparation": -100, "values": [0.5, 1, 1.5, 2, 2.5], "format": "~g", "title": "vin,size", "titleX": -34, "titleY": 161, "titleBaseline": "middle", "titleAlign": "center"}}}},
    {"data": {"name": "c"}, "mark": {"type": "line", "color": "#111", "strokeWidth": 1.3, "interpolate": "monotone", "clip": true},
     "encoding": {"x": {"field": "t", "type": "quantitative"}, "y": {"field": "s", "type": "quantitative"}}},
    {"mark": {"type": "rect", "fillOpacity": 0, "stroke": "#000", "strokeWidth": 1.5}, "encoding": {"x": {"datum": 0.2}, "x2": {"datum": 0.3}, "y": {"datum": 0.5}, "y2": {"datum": 2.5}}},
    {"mark": {"type": "text", "text": "size & vin(sine 100Hz) vs. time", "align": "center", "baseline": "middle", "fontSize": 14, "color": "#222"}, "encoding": {"x": {"datum": 0.25}, "y": {"datum": 2.5932}}},
    {"mark": {"type": "text", "text": "drive", "align": "left", "baseline": "middle", "fontSize": 23}, "encoding": {"x": {"datum": 0.30406}, "y": {"datum": 2.3634}}},
    {"mark": {"type": "text", "text": "signal", "align": "left", "baseline": "middle", "fontSize": 23}, "encoding": {"x": {"datum": 0.30406}, "y": {"datum": 2.2143}}},
    {"mark": {"type": "text", "text": "spot", "align": "left", "baseline": "middle", "fontSize": 23}, "encoding": {"x": {"datum": 0.30406}, "y": {"datum": 1.4441}}},
    {"mark": {"type": "text", "text": "size", "align": "left", "baseline": "middle", "fontSize": 23}, "encoding": {"x": {"datum": 0.30406}, "y": {"datum": 1.295}}},
    {"mark": {"type": "rule", "color": "#000", "strokeWidth": 2}, "encoding": {"x": {"datum": 0.30494}, "y": {"datum": 2.1478}, "x2": {"datum": 0.28198}, "y2": {"datum": 1.6683}}},
    {"mark": {"type": "point", "shape": "triangle-up", "size": 260, "filled": true, "color": "#000", "opacity": 1, "angle": 231}, "encoding": {"x": {"datum": 0.28198}, "y": {"datum": 1.6683}}},
    {"mark": {"type": "rule", "color": "#000", "strokeWidth": 2}, "encoding": {"x": {"datum": 0.30494}, "y": {"datum": 1.3615}, "x2": {"datum": 0.2821}, "y2": {"datum": 1.0112}}},
    {"mark": {"type": "point", "shape": "triangle-up", "size": 260, "filled": true, "color": "#000", "opacity": 1, "angle": 240}, "encoding": {"x": {"datum": 0.2821}, "y": {"datum": 1.0112}}}
   ]
  }
 ],
 "spacing": 134, "bounds": "flush"
}
]
}
